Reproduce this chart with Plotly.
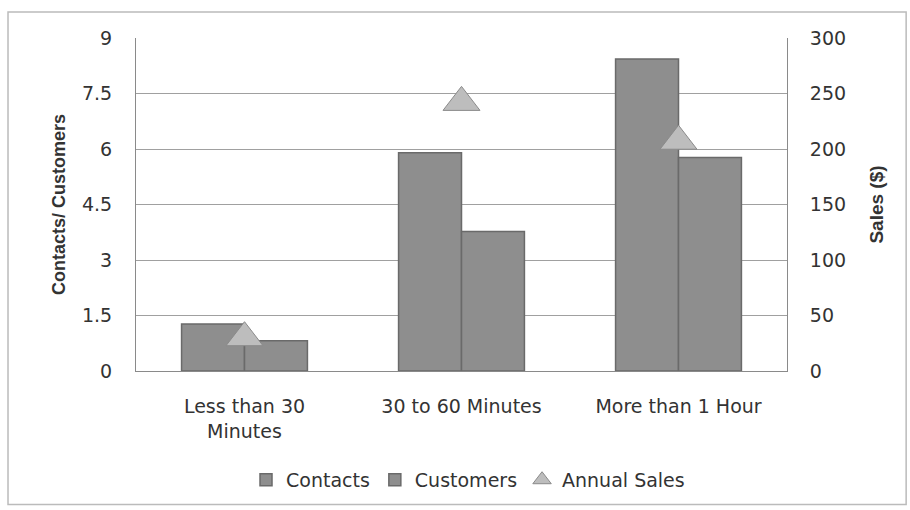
import plotly.graph_objects as go

categories = ["Less than 30<br>Minutes", "30 to 60 Minutes", "More than 1 Hour"]
contacts = [1.27, 5.9, 8.43]
customers = [0.82, 3.77, 5.77]
annual_sales = [30, 242, 207]

left_ticks = [0, 1.5, 3, 4.5, 6, 7.5, 9]
left_labels = ["0", "1.5", "3", "4.5", "6", "7.5", "9"]
right_ticks = [0, 50, 100, 150, 200, 250, 300]

font_main = "DejaVu Sans"
tick_size = 19

fig = go.Figure()
fig.add_trace(go.Bar(
    x=categories, y=contacts, name="Contacts",
    marker=dict(color="#8e8e8e", line=dict(color="#6a6a6a", width=1.5)),
))
fig.add_trace(go.Bar(
    x=categories, y=customers, name="Customers",
    marker=dict(color="#8e8e8e", line=dict(color="#6a6a6a", width=1.5)),
))
fig.add_trace(go.Scatter(
    x=categories, y=annual_sales, name="Annual Sales", yaxis="y2",
    mode="markers",
    marker=dict(symbol="triangle-up", size=32, color="#bdbdbd",
                line=dict(color="#8a8a8a", width=1)),
))

fig.update_layout(
    width=910, height=510,
    margin=dict(l=136, r=123, t=38, b=138),
    paper_bgcolor="white", plot_bgcolor="white",
    barmode="group", bargap=0.42, bargroupgap=0,
    font=dict(family=font_main, size=tick_size, color="#333333"),
    xaxis=dict(showline=True, linecolor="#8a8a8a", linewidth=1,
               ticks="", ticklabelstandoff=18,
               tickfont=dict(size=tick_size, color="#333333")),
    yaxis=dict(range=[0, 9], tickvals=left_ticks, ticktext=left_labels,
               showgrid=True, gridcolor="#a0a0a0", gridwidth=1,
               showline=True, linecolor="#8a8a8a", zeroline=False,
               ticks="", ticklabelstandoff=19,
               tickfont=dict(size=tick_size, color="#333333"),
               title=dict(text="<b>Contacts/ Customers</b>", standoff=11,
                          font=dict(family="Liberation Sans", size=18, color="#333333"))),
    yaxis2=dict(range=[0, 300], tickvals=right_ticks, overlaying="y", side="right",
                showgrid=False, showline=True, linecolor="#8a8a8a", zeroline=False,
                ticks="", ticklabelstandoff=18,
                tickfont=dict(size=tick_size, color="#333333"),
                title=dict(text="<b>Sales ($)</b>", standoff=24,
                           font=dict(family="Liberation Sans", size=19, color="#333333"))),
    legend=dict(orientation="h", x=0.51, xanchor="center", y=-0.323, yanchor="middle",
                font=dict(size=tick_size, color="#333333"), itemwidth=30,
                traceorder="normal"),
    shapes=[dict(type="rect", xref="paper", yref="paper",
                 x0=-0.1966, x1=1.183, y0=-0.401, y1=1.078,
                 line=dict(color="#bbbbbb", width=1.5), fillcolor="rgba(0,0,0,0)",
                 layer="below")],
    showlegend=True,
)

fig.write_html("out.html")
